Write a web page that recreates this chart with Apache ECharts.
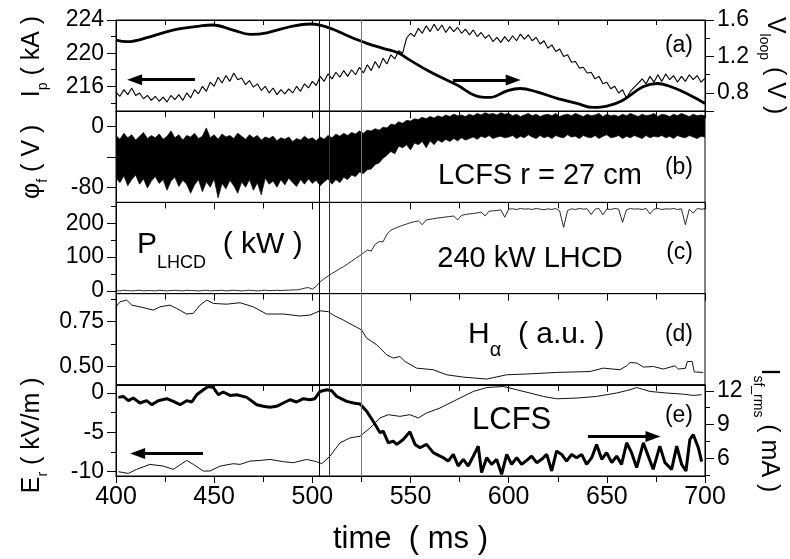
<!DOCTYPE html>
<html><head><meta charset="utf-8">
<script src="https://cdn.jsdelivr.net/npm/echarts@6/dist/echarts.min.js"></script>
<style>html,body{margin:0;padding:0;background:#fff}#c{width:790px;height:559px}</style>
</head><body><div id="c"></div>
<script>
const FONT = '"Liberation Sans", Arial, Helvetica, sans-serif';

// ---- shared time axis ----
const xMin = 400, xMax = 700, xInterval = 50;
const markerTimes = [503.6, 508.7, 525.1];
const markerColors = ['#000', '#333', '#777'];
const denseStart = 400, denseStep = 2;

// ---- (a) plasma current Ip (kA), noisy trace, sampled every 2 ms ----
const ipValues = [
 215.3,214.8,215.6,215.0,215.8,214.9,215.2,214.5,214.9,214.3,
 214.8,214.2,214.7,214.1,214.9,214.4,215.0,214.3,215.2,214.6,
 215.6,215.1,216.0,215.4,216.5,216.0,217.1,216.4,217.3,216.6,
 217.6,216.8,217.0,216.2,216.7,215.9,216.3,215.5,216.0,215.2,
 215.8,215.0,215.6,215.1,215.7,215.2,216.0,215.4,216.3,215.8,
 216.6,216.1,217.2,216.6,217.5,216.9,217.7,217.1,217.9,217.2,
 218.0,217.4,218.3,217.6,218.6,217.9,219.0,218.2,219.4,218.7,
 219.8,219.3,220.3,220.0,221.8,222.4,222.0,223.0,222.4,223.3,
 222.6,223.5,222.7,223.4,222.5,223.2,222.6,223.1,222.4,222.9,
 222.2,222.8,222.0,222.5,221.8,222.2,221.4,221.9,221.3,222.0,
 221.4,222.1,221.5,222.3,221.7,222.2,221.5,221.9,221.1,221.5,
 220.6,221.0,220.2,220.5,219.6,219.8,218.9,219.0,218.2,218.3,
 217.6,217.7,216.9,217.2,216.3,216.5,215.7,216.0,215.2,215.6,
 214.6,215.4,215.9,216.4,216.9,216.3,217.2,216.5,217.4,216.6,
 217.5,216.8,217.3,216.5,217.2,216.6,217.4,216.8,217.3,216.5,
 217.0
];
// ---- (a) loop voltage Vloop (V) ----
const vloopTimes = [400,405.6,417.3,429,442.8,449.4,459.6,468.3,476.9,488.6,498.8,503.9,510.5,519.2,527.8,536,543.6,549.7,559.9,573.7,585.4,590.5,599.2,605.8,614.4,624.6,634.8,643,650.1,658.2,668.4,675.6,683.7,692.4,700];
const vloopValues = [1.380,1.362,1.416,1.490,1.534,1.545,1.490,1.443,1.460,1.526,1.556,1.545,1.498,1.416,1.344,1.289,1.241,1.160,1.032,0.886,0.757,0.751,0.823,0.849,0.812,0.740,0.685,0.641,0.655,0.721,0.867,0.904,0.860,0.776,0.685];

// ---- (b) floating potential phi_f (V): envelope of the dense noisy band, every 2 ms ----
const phiUpper = [
 -12,-17,-9,-15,-11,-18,-13,-8,-16,-12,
 -15,-10,-17,-13,-6,-15,-11,-18,-12,-14,
 -9,-16,-13,-2,-15,-11,-17,-10,-14,-12,
 -16,-9,-13,-17,-11,-15,-12,-18,-14,-16,
 -13,-19,-15,-17,-14,-20,-16,-18,-13,-17,
 -15,-19,-14,-17,-12,-15,-10,-13,-9,-12,
 -8,-10,-6,-9,-5,-6,-3,-5,-1,-2,
 3,2,6,4,8,7,10,9,12,10,
 13,11,14,12,15,13,16,14,15,13,
 16,14,17,15,18,16,17,15,18,16,
 17,14,16,13,15,17,14,16,13,15,
 16,14,17,13,15,16,14,17,15,13,
 16,14,15,17,13,16,14,15,13,16,
 14,17,15,13,16,14,15,17,13,16,
 15,13,16,14,17,15,13,16,14,15,
 14
];
const phiLower = [
 -68,-74,-65,-78,-70,-64,-76,-69,-81,-72,
 -66,-75,-70,-84,-72,-67,-79,-71,-76,-88,
 -77,-70,-86,-73,-80,-69,-94,-75,-82,-71,
 -78,-88,-73,-80,-70,-84,-74,-90,-68,-76,
 -72,-80,-70,-77,-68,-74,-79,-70,-76,-69,
 -75,-71,-78,-73,-69,-76,-70,-74,-67,-70,
 -64,-66,-60,-62,-57,-56,-50,-48,-42,-38,
 -33,-36,-26,-28,-24,-31,-22,-24,-20,-28,
 -19,-24,-18,-21,-17,-20,-16,-19,-15,-18,
 -16,-14,-17,-13,-15,-12,-16,-14,-13,-15,
 -14,-12,-16,-13,-15,-11,-14,-16,-12,-15,
 -13,-16,-12,-14,-15,-11,-14,-13,-16,-12,
 -14,-15,-12,-16,-13,-11,-15,-14,-12,-16,
 -13,-15,-12,-14,-16,-12,-15,-13,-14,-12,
 -15,-13,-16,-12,-14,-15,-12,-14,-16,-13,
 -14
];

// ---- (c) LHCD power (kW), every 2 ms ----
const plhcdValues = [
 1,0,2,1,0,1,2,0,1,1,
 0,2,1,0,1,2,1,0,2,1,
 1,0,1,2,0,1,1,2,0,1,
 2,1,0,1,2,1,0,1,2,1,
 1,2,1,2,2,3,3,5,8,10,
 5,14,27,36,44,52,58,66,72,80,
 88,96,104,112,121,118,138,146,145,168,
 180,185,190,194,198,202,205,207,196,210,
 212,214,216,217,219,220,222,210,224,226,
 228,229,231,233,222,236,237,238,240,218,
 242,243,241,244,242,243,241,244,242,240,
 243,241,244,236,188,238,243,241,244,242,
 243,226,242,244,225,243,241,244,242,203,
 240,244,242,243,241,244,228,242,244,241,
 243,242,244,241,243,196,242,230,244,242,
 243
];

// ---- (d) H-alpha (a.u.) ----
const halphaTimes = [400,402,405.4,408,412.2,419,422.4,427.5,430.9,436,439.4,442.8,446.2,449.6,456.4,463.2,469.9,476.7,485.2,493.7,498.8,503.9,508.1,510.7,515.8,522.6,525.1,527.7,532.8,537.9,541.2,544.6,547.2,553.1,561.6,568.4,576.9,588.8,599,610.8,624.4,641.4,648.2,656.7,660.1,661.8,665.2,668.6,673.7,678.8,684.7,686.4,690,691,693.5,694.5,699.1];
const halphaValues = [0.833,0.861,0.871,0.843,0.833,0.815,0.833,0.843,0.824,0.793,0.797,0.843,0.871,0.852,0.848,0.856,0.833,0.793,0.793,0.782,0.787,0.811,0.806,0.787,0.759,0.719,0.704,0.658,0.621,0.565,0.547,0.556,0.528,0.491,0.482,0.454,0.441,0.430,0.454,0.459,0.467,0.472,0.491,0.482,0.504,0.522,0.520,0.497,0.500,0.486,0.504,0.486,0.490,0.528,0.528,0.470,0.467];

// ---- (e) radial electric field Er (kV/m) ----
const erTimes = [401.2,403.7,406.3,408.8,412.2,415.6,418.2,421.5,425.8,429.2,432.6,436,438.6,441.1,444.5,447,449.6,452.1,454.6,458.1,461.5,466.6,471.7,475,478.4,481.8,485.2,488.6,492,495.4,498.8,501.3,503.9,507.3,509.9,512.4,517.5,520.9,524.3,527.7,531,534.5,536.1,538.7,541.2,543,546.3,549.7,552.3,554.8,558.2,561.6,565,566.7,569.2,571.8,574.3,576.9,579.4,582,584.5,586.2,588.8,591.3,593.9,596.4,599,601.5,604.1,606.6,609.2,611.7,614.3,616.8,619.4,621.9,624.4,627,629.5,632.1,634.6,637.2,639.7,642.3,644.8,647.4,649.9,652.5,655,657.5,660.1,662.6,665.2,668.6,671.1,673.6,677,679.6,683,685.6,688.1,690.3,692.3,694,696.6,698.3];
const erValues = [-0.55,-0.43,-0.97,-0.63,-1.27,-0.97,-1.48,-0.97,-0.72,-1.06,-1.48,-0.97,-1.14,-0.22,0.42,0.84,0.71,-0.22,0.13,-0.30,-0.22,-0.55,-1.48,-1.69,-1.82,-1.69,-1.27,-0.85,-1.14,-0.72,-0.85,-0.72,0.20,0.42,0.29,-0.43,-1.06,-1.27,-1.39,-2.33,-3.59,-5.06,-4.85,-6.33,-6.12,-6.54,-5.91,-4.94,-6.54,-6.96,-6.54,-7.59,-8.03,-8.23,-8.66,-7.81,-9.29,-8.44,-9.29,-8.03,-6.76,-10.13,-8.23,-9.08,-8.44,-10.34,-7.81,-9.08,-8.23,-9.08,-8.57,-8.03,-8.86,-8.44,-7.81,-9.92,-7.39,-7.81,-8.66,-7.81,-8.23,-7.81,-9.08,-8.23,-6.54,-8.44,-7.59,-8.86,-8.03,-9.08,-6.33,-7.59,-9.49,-6.33,-8.03,-9.71,-6.76,-8.86,-9.71,-6.76,-9.08,-9.92,-5.91,-5.28,-6.96,-8.73];
// ---- (e) floating-current rms Isf_rms (mA) ----
const isfTimes = [401.2,406.3,410.5,417.3,424.1,429.2,436,439.4,444.5,447.9,453,459.7,463.2,468.2,473.3,478.4,485.2,490.3,497.1,502.2,504.8,509,514.1,519.2,524.3,529.4,534.5,538.7,544.6,549.7,554,558.2,565,573.5,582,588.8,597.3,604.1,610.8,617.6,624.4,634.6,644.8,655,661.8,665.2,672,680.5,689,694,698.3];
const isfValues = [4.82,4.67,5.03,5.47,5.32,5.03,5.82,5.47,4.88,4.88,5.32,5.53,5.47,5.76,5.82,5.91,5.71,5.62,5.91,5.71,5.53,6.20,7.38,7.82,7.97,8.70,9.59,9.88,9.73,9.88,9.59,10.03,10.47,11.21,11.94,12.29,12.38,12.09,11.80,11.50,11.29,11.35,11.50,11.80,12.09,12.29,11.94,11.80,11.70,11.59,11.65];

// ---- axis ranges and tick values ----
const ipRange = [213, 224], ipLabels = [216, 220, 224], ipMinor = [214, 218, 222];
const vlRange = [0.6, 1.6], vlLabels = [0.8, 1.2, 1.6], vlMajor = [0.6, 0.8, 1.2, 1.6], vlMinor = [1.0, 1.4];
const phiRange = [-100, 20], phiLabels = [-80, 0], phiMajor = [-80, -40, 0];
const pRange = [-8, 262], pLabels = [0, 100, 200], pMinor = [50, 150, 250];
const hRange = [0.398, 0.907], hLabels = [0.5, 0.75], hMinor = [0.625, 0.875];
const erRange = [-10.56, 1.05], erLabels = [-10, -5, 0], erMinor = [-7.5, -2.5];
const isfRange = [4.44, 12.53], isfLabels = [6, 9, 12], isfMinor = [4.5, 7.5, 10.5];

// ---- build ----
const pairs = (ts, vs) => ts.map((t, i) => [t, vs[i]]);
const dense = vs => vs.map((v, i) => [denseStart + i * denseStep, v]);

const tops = [20, 111.2, 202.4, 293.6, 384.8];
const H = 91.2;
const grids = tops.map(t => ({left: 116, width: 589, top: t, height: H, show: true, borderColor: '#000', borderWidth: 1, backgroundColor: 'transparent', containLabel: false, outerBoundsMode: 'none'}));

const richStyle = {
  m: {fontSize: 25, lineHeight: 36, fontFamily: FONT, color: '#000', verticalAlign: 'middle'},
  s: {fontSize: 14, lineHeight: 36, fontFamily: FONT, color: '#000', verticalAlign: 'bottom'}
};
function yMain(gi, pos, range, labels, majors, fmt, name, gap, pad) {
  return {
    type: 'value', gridIndex: gi, position: pos, min: range[0], max: range[1],
    splitLine: {show: false},
    axisLine: {show: true, onZero: false, lineStyle: {color: '#000', width: 1}},
    axisTick: {show: true, inside: false, length: 9, customValues: majors, lineStyle: {color: '#000', width: 1}},
    axisLabel: {show: true, customValues: labels, formatter: fmt, fontSize: 23, color: '#000', fontFamily: FONT, margin: 12},
    name: name || '', nameLocation: 'middle', nameGap: gap || 0, nameMoveOverlap: false,
    nameRotate: pos === 'left' ? 90 : -90,
    nameTextStyle: {color: '#000', fontFamily: FONT, fontSize: 25, lineHeight: 36, rich: richStyle, padding: pad || 0}
  };
}
function yMinor(gi, pos, range, ticks) {
  return {
    type: 'value', gridIndex: gi, position: pos, min: range[0], max: range[1],
    splitLine: {show: false}, axisLine: {show: false, onZero: false},
    axisTick: {show: true, inside: false, length: 5, customValues: ticks, lineStyle: {color: '#000', width: 1}},
    axisLabel: {show: false}
  };
}
const intFmt = v => String(Math.round(v));
const yAxes = [
  yMain(0, 'left', ipRange, ipLabels, ipLabels, intFmt, '{m|I}{s|p}{m| ( kA )}', 66, [0, 0, 0, 18]), // 0
  yMinor(0, 'left', ipRange, ipMinor),                                                          // 1
  yMain(0, 'right', vlRange, vlLabels, vlMajor, v => v.toFixed(1), '{m|V}{s|loop}{m| ( V )}', 52),   // 2
  yMinor(0, 'right', vlRange, vlMinor),                                                         // 3
  yMain(1, 'left', phiRange, phiLabels, phiMajor, intFmt, '{m|φ}{s|f}{m| ( V )}', 66, [0, 10, 0, 0]), // 4
  yMain(2, 'left', pRange, pLabels, pLabels, intFmt),                                           // 5
  yMinor(2, 'left', pRange, pMinor),                                                            // 6
  yMain(3, 'left', hRange, hLabels, hLabels, v => v.toFixed(2)),                                // 7
  yMinor(3, 'left', hRange, hMinor),                                                            // 8
  yMain(4, 'left', erRange, erLabels, erLabels, intFmt, '{m|E}{s|r}{m| ( kV/m )}', 66, [0, 10, 0, 0]), // 9
  yMinor(4, 'left', erRange, erMinor),                                                          // 10
  yMain(4, 'right', isfRange, isfLabels, isfLabels, intFmt, '{m|I}{s|sf_rms}{m| ( mA )}', 46),  // 11
  yMinor(4, 'right', isfRange, isfMinor)                                                        // 12
];

const xAxes = [0, 1, 2, 3, 4].map(i => ({
  type: 'value', gridIndex: i, position: 'bottom', min: xMin, max: xMax, interval: xInterval,
  splitLine: {show: false}, minorSplitLine: {show: false},
  axisLine: {show: true, onZero: false, lineStyle: {color: '#000', width: 1}},
  axisTick: {show: true, inside: false, length: 7, lineStyle: {color: '#000', width: 1}},
  minorTick: {show: true, splitNumber: 2, length: 6, lineStyle: {color: '#000', width: 1}},
  axisLabel: {show: i === 4, fontSize: 25, color: '#000', fontFamily: FONT, margin: 9},
  name: i === 4 ? 'time  ( ms )' : '', nameLocation: 'middle', nameGap: 48, nameMoveOverlap: false,
  nameTextStyle: {fontSize: 31, color: '#000', fontFamily: FONT}
}));
xAxes.push({
  type: 'value', gridIndex: 0, position: 'top', min: xMin, max: xMax, interval: 25,
  splitLine: {show: false},
  axisLine: {show: true, onZero: false, lineStyle: {color: '#000', width: 1}},
  axisTick: {show: true, inside: true, length: 5, lineStyle: {color: '#000', width: 1}},
  axisLabel: {show: false}
});

const markers = {
  silent: true, symbol: 'none', animation: false, label: {show: false},
  data: markerTimes.map((t, k) => ({xAxis: t, lineStyle: {color: markerColors[k], width: 1, type: 'solid'}}))
};
function arrow(from, to) {
  return [{coord: from, symbol: 'none'}, {coord: to, symbol: 'triangle', symbolSize: [11, 15]}];
}
function arrowLine(fr, to) {
  return {silent: true, animation: false, label: {show: false}, symbol: 'none',
    lineStyle: {color: '#000', width: 3, type: 'solid'}, data: [arrow(fr, to)]};
}
const base = {type: 'line', showSymbol: false, symbol: 'none', animation: false, silent: true};

// band of the phi_f signal: polygon through the upper envelope, back along the lower one
const phiBand = {
  type: 'custom', xAxisIndex: 1, yAxisIndex: 4, animation: false, silent: true, clip: true,
  data: phiLower.map((lo, i) => [denseStart + i * denseStep, lo, phiUpper[i]]),
  encode: {x: 0, y: [1, 2]},
  renderItem: function (params, api) {
    if (params.dataIndex !== 0) return null;
    const pts = [];
    for (let i = 0; i < phiUpper.length; i++) pts.push(api.coord([denseStart + i * denseStep, phiUpper[i]]));
    for (let i = phiLower.length - 1; i >= 0; i--) pts.push(api.coord([denseStart + i * denseStep, phiLower[i]]));
    return {type: 'polygon', shape: {points: pts}, style: {fill: '#000', stroke: '#111', lineWidth: 0.8}};
  }
};

const series = [
  Object.assign({}, base, {xAxisIndex: 0, yAxisIndex: 0, data: dense(ipValues),
    lineStyle: {color: '#000', width: 1.1}, markLine: arrowLine([440.2, 216.8], [409.5, 216.8])}),
  Object.assign({}, base, {xAxisIndex: 0, yAxisIndex: 2, data: pairs(vloopTimes, vloopValues), smooth: 0.4,
    lineStyle: {color: '#000', width: 2.8}, markLine: arrowLine([571.6, 0.941], [602.3, 0.941])}),
  Object.assign({}, base, {xAxisIndex: 0, yAxisIndex: 0, data: [[400, 213.5]], lineStyle: {opacity: 0}, markLine: markers}),
  phiBand,
  Object.assign({}, base, {xAxisIndex: 1, yAxisIndex: 4, data: [[400, -99]], lineStyle: {opacity: 0}, markLine: markers}),
  Object.assign({}, base, {xAxisIndex: 2, yAxisIndex: 5, data: dense(plhcdValues),
    lineStyle: {color: '#111', width: 0.9}, markLine: markers}),
  Object.assign({}, base, {xAxisIndex: 3, yAxisIndex: 7, data: pairs(halphaTimes, halphaValues),
    lineStyle: {color: '#111', width: 1}, markLine: markers}),
  Object.assign({}, base, {xAxisIndex: 4, yAxisIndex: 9, data: pairs(erTimes, erValues),
    lineStyle: {color: '#000', width: 3}, markLine: arrowLine([444.3, -7.68], [411.0, -7.68])}),
  Object.assign({}, base, {xAxisIndex: 4, yAxisIndex: 11, data: pairs(isfTimes, isfValues),
    lineStyle: {color: '#111', width: 1}, markLine: arrowLine([640.4, 7.94], [673.5, 7.94])}),
  Object.assign({}, base, {xAxisIndex: 4, yAxisIndex: 9, data: [[400, -10.4]], lineStyle: {opacity: 0}, markLine: markers})
];

function txt(s, x, y, size, align) {
  return {type: 'text', x: x, y: y, silent: true, style: {text: s, fontSize: size, fontFamily: FONT, fill: '#000', align: align || 'left', verticalAlign: 'middle'}};
}
function richTxt(s, x, y, mainSize, subSize, lh) {
  return {type: 'text', x: x, y: y, silent: true, style: {text: s, fontFamily: FONT, fill: '#000', align: 'left', verticalAlign: 'middle',
    rich: {m: {fontSize: mainSize, fontFamily: FONT, fill: '#000', lineHeight: lh, verticalAlign: 'middle'},
           s: {fontSize: subSize, fontFamily: FONT, fill: '#000', lineHeight: lh, verticalAlign: 'bottom'}}}};
}
const graphic = [
  txt('(a)', 693, 46, 23, 'right'),
  txt('(b)', 693, 168, 23, 'right'),
  txt('(c)', 693, 253, 23, 'right'),
  txt('(d)', 693, 335, 23, 'right'),
  txt('(e)', 693, 416, 23, 'right'),
  txt('LCFS r = 27 cm', 540, 176, 29, 'center'),
  txt('240 kW LHCD', 530, 259, 29, 'center'),
  txt('LCFS', 472, 420, 31, 'left'),
  richTxt('{m|P}{s|LHCD}{m|  ( kW )}', 137, 245, 30, 18, 54),
  richTxt('{m|H}{s|α}{m|  ( a.u. )}', 468, 335, 30, 20, 50)
];

const chart = echarts.init(document.getElementById('c'), null, {renderer: 'canvas', width: 790, height: 559});
chart.setOption({
  backgroundColor: '#fff',
  animation: false,
  grid: grids,
  xAxis: xAxes,
  yAxis: yAxes,
  series: series,
  graphic: graphic
});
</script>
</body></html>
